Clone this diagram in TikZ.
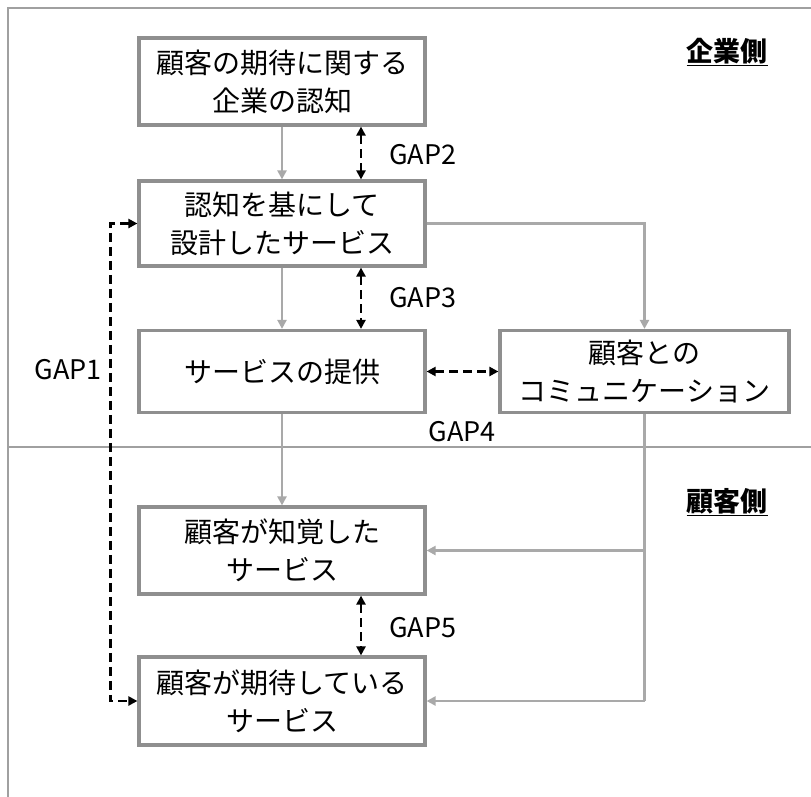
\documentclass[tikz,border=0pt]{standalone}
\usepackage{fontspec}
\setmainfont{Noto Sans CJK JP}
\usetikzlibrary{arrows.meta}
\definecolor{boxgray}{HTML}{8F8F8F}
\definecolor{conngray}{HTML}{A9A9A9}
\definecolor{framegray}{HTML}{A0A0A0}
\tikzset{
  box/.style={draw=boxgray, line width=3.2pt, fill=white, minimum width=286pt, align=center,
    font=\fontsize{28}{38}\selectfont, inner sep=0pt},
  conn/.style={draw=conngray, line width=2.8pt, -{Triangle[length=9pt,width=9pt]}},
  gline/.style={draw=conngray, line width=2.8pt},
  gap/.style={draw=black, line width=2.8pt, dash pattern=on 9pt off 5pt,
    {Triangle[length=9pt,width=9pt]}-{Triangle[length=9pt,width=9pt]}},
  gaplabel/.style={font=\fontsize{27}{30}\selectfont, inner sep=0pt},
  heading/.style={font=\fontsize{27}{30}\selectfont\bfseries, inner sep=0pt},
  frameline/.style={draw=framegray, line width=1.4pt}
}
\begin{document}
\begin{tikzpicture}[x=1pt,y=-1pt]
\useasboundingbox (0,0) rectangle (811,797);
% frame
\draw[frameline] (8,797) -- (8,8) -- (811,8);
\draw[frameline] (8,447) -- (811,447);
% boxes
\node[box, minimum height=87pt] (b1) at (282,81.5) {顧客の期待に関する\\企業の認知};
\node[box, minimum height=85pt] (b2) at (282,223.5) {認知を基にして\\設計したサービス};
\node[box, minimum height=82pt] (b3) at (282,371.5) {サービスの提供};
\node[box, minimum height=82pt, minimum width=289pt] (b4) at (644.5,371.5) {顧客との\\コミュニケーション};
\node[box, minimum height=87pt] (b5) at (282,550.5) {顧客が知覚した\\サービス};
\node[box, minimum height=88pt] (b6) at (282,701) {顧客が期待している\\サービス};
% headings
\node[heading] (h1) at (727,52) {\underline{企業側}};
\node[heading] (h2) at (727,502) {\underline{顧客側}};
% gray connectors
\draw[conn] (b1) -- (b2);
\draw[conn] (b2) -- (b3);
\draw[conn] (b3) -- (b5);
\draw[conn] (b2.east) -| (b4.north);
\coordinate (c5) at (b4.south |- b5.east);
\coordinate (c6) at (b4.south |- b6.east);
\draw[gline] (b4.south) -- (c6);
\draw[conn] (c5) -- (b5.east);
\draw[conn] (c6) -- (b6.east);
% gaps
\draw[gap] ([xshift=79pt]b1.south) -- ([xshift=79pt]b2.north);
\draw[gap] ([xshift=79pt]b2.south) -- ([xshift=79pt]b3.north);
\draw[gap] ([xshift=79pt]b5.south) -- ([xshift=79pt]b6.north);
\draw[gap] (b3.east) -- (b4.west);
\draw[gap] (b2.west) -- ++(-27,0) |- (b6.west);
% gap labels
\node[gaplabel, anchor=west] (g2) at (389,155) {GAP2};
\node[gaplabel, anchor=west] (g3) at (389,298) {GAP3};
\node[gaplabel] (g4) at (462,432) {GAP4};
\node[gaplabel, anchor=west] (g5) at (389,628) {GAP5};
\node[gaplabel, anchor=east] (g1) at (102,370) {GAP1};
\end{tikzpicture}
\end{document}
